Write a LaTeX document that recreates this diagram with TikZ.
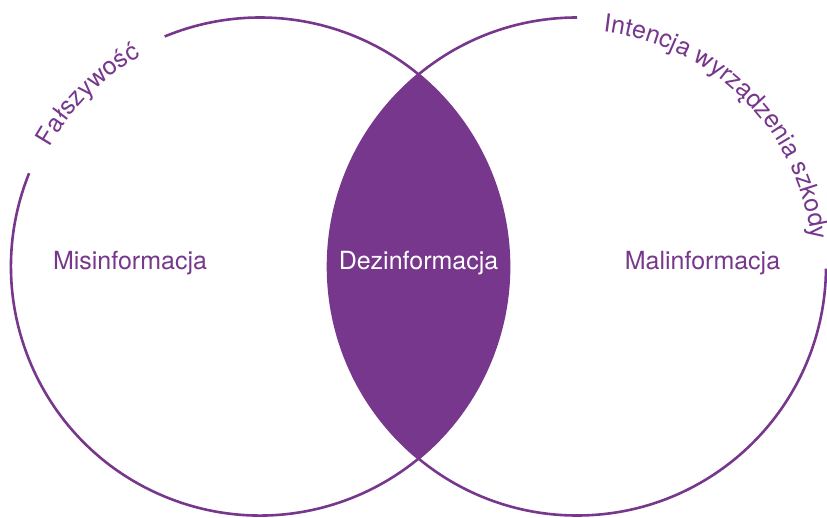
\documentclass[tikz,border=0pt]{standalone}
\usepackage{fontspec}
\setmainfont{TeX Gyre Heros}
\usetikzlibrary{decorations.text}
\definecolor{vpurple}{HTML}{77378C}
\begin{document}
\begin{tikzpicture}[x=1pt,y=1pt,
  ring/.style={draw=vpurple,line width=2.6pt},
  lbl/.style={font=\fontsize{25}{29}\selectfont,anchor=base,inner sep=0pt}]
\useasboundingbox (0,0) rectangle (827,517);
\coordinate (cl) at (260,250.5);
\coordinate (cr) at (577,250.5);
% lens
\begin{scope}
  \clip (cl) circle (249);
  \fill[vpurple] (cr) circle (249);
\end{scope}
% circles with gaps
\draw[ring] (cl) ++(158:249) arc (158:472.5:249);
\draw[ring] (cr) ++(90:249) arc (90:359.5:249);
% curved labels
\path[decorate,decoration={text along path,text align=center,
  text={|\color{vpurple}\fontsize{25}{29}\selectfont|Fałszywość}}]
  (cl) ++(165:242) arc (165:105:242);
\path[decorate,decoration={text along path,text align=center,
  text={|\color{vpurple}\fontsize{25}{29}\selectfont|Intencja wyrządzenia szkody}}]
  (cr) ++(95:236) arc (95:-5:236);
% labels
\node[lbl,text=vpurple] (mis) at (130,247) {Misinformacja};
\node[lbl,text=white] (dez) at (418.5,247) {Dezinformacja};
\node[lbl,text=vpurple] (mal) at (702.5,247) {Malinformacja};
\end{tikzpicture}
\end{document}
